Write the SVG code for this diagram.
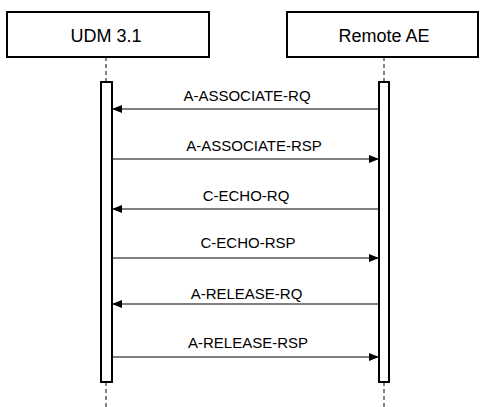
<svg xmlns="http://www.w3.org/2000/svg" width="480" height="407" viewBox="0 0 480 407">
<style>
.box{fill:#fff;stroke:#000;stroke-width:2}
.bar{fill:#fff;stroke:#000;stroke-width:2}
.life{stroke:#000;stroke-width:1;stroke-dasharray:4,3;fill:none}
.msg{stroke:#000;stroke-width:1;fill:none}
.hd{font-family:"Liberation Sans",Arial,sans-serif;font-size:18px;text-anchor:middle;fill:#000}
.lb{font-family:"Liberation Sans",Arial,sans-serif;font-size:15px;text-anchor:middle;fill:#000}
</style>
<defs>
<marker id="ah" viewBox="0 0 10 8" refX="10" refY="4" markerWidth="10" markerHeight="8" markerUnits="userSpaceOnUse" orient="auto">
<path d="M0,0 L10,4 L0,8 Z" fill="#000"/>
</marker>
</defs>
<rect width="480" height="407" fill="#fff"/>
<g id="udm">
<rect class="box" x="7" y="12" width="202" height="45"/>
<text class="hd" x="106" y="42">UDM 3.1</text>
<line class="life" x1="106" y1="57" x2="106" y2="82"/>
<line class="life" x1="106" y1="382" x2="106" y2="407"/>
<rect class="bar" x="101" y="82" width="11" height="300"/>
</g>
<g id="remote">
<rect class="box" x="287" y="12" width="191" height="45"/>
<text class="hd" x="384" y="42">Remote AE</text>
<line class="life" x1="384" y1="57" x2="384" y2="82"/>
<line class="life" x1="384" y1="382" x2="384" y2="407"/>
<rect class="bar" x="379" y="82" width="10" height="300"/>
</g>
<g id="connectors">
<line class="msg" x1="379" y1="109" x2="112" y2="109" marker-end="url(#ah)"/>
<text class="lb" x="247" y="101">A-ASSOCIATE-RQ</text>
<line class="msg" x1="112" y1="159" x2="379" y2="159" marker-end="url(#ah)"/>
<text class="lb" x="254" y="151">A-ASSOCIATE-RSP</text>
<line class="msg" x1="379" y1="209" x2="112" y2="209" marker-end="url(#ah)"/>
<text class="lb" x="246" y="201">C-ECHO-RQ</text>
<line class="msg" x1="112" y1="258" x2="379" y2="258" marker-end="url(#ah)"/>
<text class="lb" x="248" y="248">C-ECHO-RSP</text>
<line class="msg" x1="379" y1="304" x2="112" y2="304" marker-end="url(#ah)"/>
<text class="lb" x="246.5" y="299">A-RELEASE-RQ</text>
<line class="msg" x1="112" y1="357" x2="379" y2="357" marker-end="url(#ah)"/>
<text class="lb" x="248" y="348">A-RELEASE-RSP</text>
</g>
</svg>
